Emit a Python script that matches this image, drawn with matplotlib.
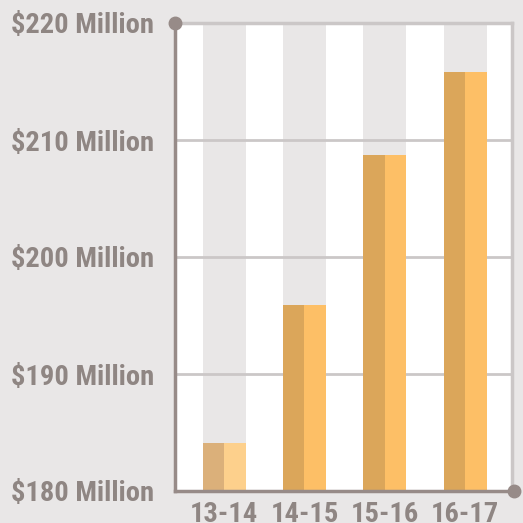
import matplotlib
matplotlib.use("Agg")
import matplotlib.pyplot as plt
from matplotlib.font_manager import FontProperties

categories = ["13-14", "14-15", "15-16", "16-17"]
values = [184.1, 195.9, 208.7, 215.8]
ytick_values = [180, 190, 200, 210, 220]
ytick_labels = ["$180 Million", "$190 Million", "$200 Million", "$210 Million", "$220 Million"]

bg = "#e9e7e7"
dark = ["#dbb07a", "#dba65a", "#dba65a", "#dba65a"]
light = ["#fdd08c", "#fdbf66", "#fdbf66", "#fdbf66"]
axis_col = "#978b88"
text_col = "#8f8683"
grid_col = "#cbc7c7"

fig = plt.figure(figsize=(5.23, 5.23), dpi=100, facecolor=bg)
ax = fig.add_axes([175/523, 1-491/523, 337/523, 468/523])
ax.set_facecolor("white")

x = list(range(len(categories)))
w = 0.535
ymin, ymax = 180, 220
ax.set_xlim(-0.61, 3.58)
ax.set_ylim(ymin, ymax)

# background bands behind bars
ax.bar(x, [ymax - ymin]*len(x), bottom=ymin, width=w, color=bg, zorder=0.5, linewidth=0)
# grid
for yv in ytick_values[1:-1]:
    ax.axhline(yv, color=grid_col, lw=2, zorder=1)
# bars, two halves
ax.bar([i - w/4 for i in x], [v - ymin for v in values], bottom=ymin, width=w/2, color=dark, zorder=2, linewidth=0)
ax.bar([i + w/4 for i in x], [v - ymin for v in values], bottom=ymin, width=w/2, color=light, zorder=2, linewidth=0)

for s in ["top", "right"]:
    ax.spines[s].set_color(grid_col)
    ax.spines[s].set_linewidth(2.5)
for s in ["left", "bottom"]:
    ax.spines[s].set_color(axis_col)
    ax.spines[s].set_linewidth(2.5)
    ax.spines[s].set_zorder(5)

ax.set_yticks(ytick_values)
ax.set_yticklabels(ytick_labels)
ax.set_xticks(x)
ax.set_xticklabels(categories)
ax.tick_params(length=0, colors=text_col)
fp = FontProperties(family=["Roboto Condensed", "DejaVu Sans"], weight="bold", size=20.5)
for lab in ax.get_yticklabels() + ax.get_xticklabels():
    lab.set_fontproperties(fp)
    lab.set_color(text_col)
ax.tick_params(axis="y", pad=15)
ax.tick_params(axis="x", pad=7)

# end dots
ax.plot([0], [1], marker="o", ms=9, color=axis_col, transform=ax.transAxes, clip_on=False, zorder=6)
ax.plot([1.005], [0], marker="o", ms=9, color=axis_col, transform=ax.transAxes, clip_on=False, zorder=6)

fig.savefig("out.png", dpi=100, facecolor=bg)
